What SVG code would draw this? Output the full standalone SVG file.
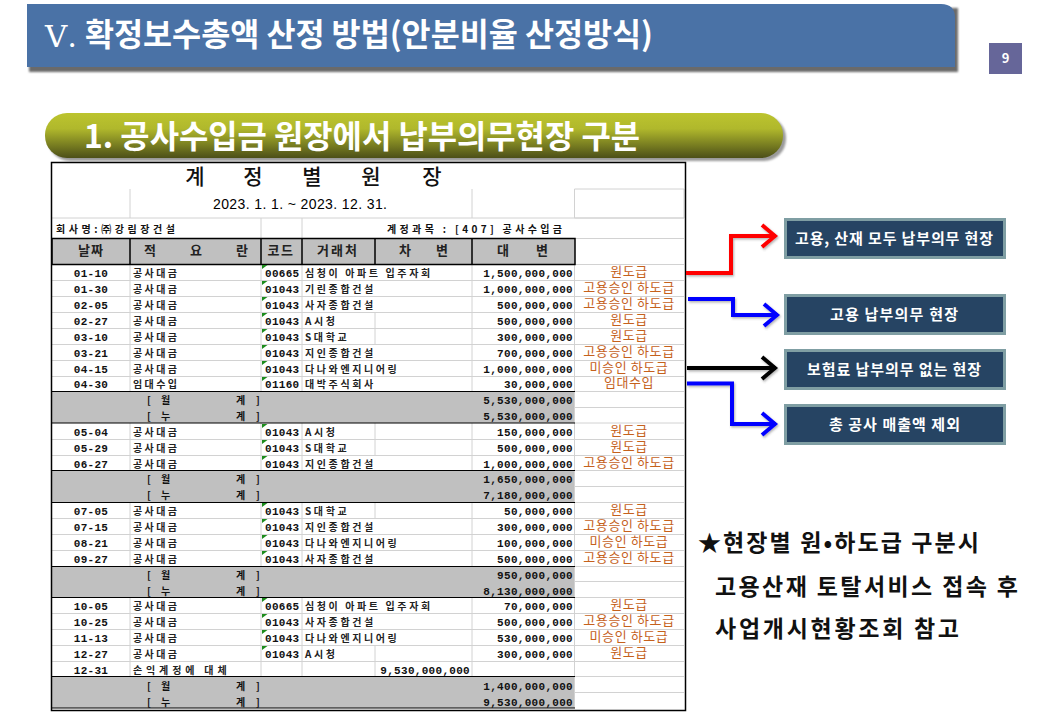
<svg xmlns="http://www.w3.org/2000/svg" width="1040" height="720" viewBox="0 0 1040 720">
<style>
text{font-family:"Noto Sans CJK KR","Noto Sans",sans-serif}
.m,.a{font-family:"Liberation Mono","DejaVu Sans Mono",monospace;font-weight:700;font-size:11px;letter-spacing:.3px;fill:#111}
.a{text-anchor:end}
.d{text-anchor:middle}
.k{font-size:10px;font-weight:700;letter-spacing:2.4px;fill:#222}
.n{font-size:10px;font-weight:700;letter-spacing:2.6px;fill:#222}
.o{font-size:13px;fill:#c5611c;text-anchor:middle;letter-spacing:.6px}
.h{font-size:13px;font-weight:700;fill:#222;text-anchor:middle}
.b{font-size:10px;font-weight:700;fill:#111}
.g{stroke:#d2d2d2;stroke-width:1;fill:none}
.t{stroke:#000;stroke-width:1.5;fill:none}
.bx{fill:#264463;stroke:#7f9ea3;stroke-width:3}
.bt{fill:#fff;font-size:15px;font-weight:700}
.nt{font-size:23px;font-weight:700;fill:#111}
.c{fill:none;stroke-width:4}
</style>
<defs>
<linearGradient id="pill" x1="0" y1="0" x2="0" y2="1"><stop offset="0" stop-color="#bcc42e"/><stop offset=".35" stop-color="#b0b82c"/><stop offset="1" stop-color="#4c4f18"/></linearGradient>
<filter id="sh" x="-5%" y="-20%" width="110%" height="150%"><feGaussianBlur stdDeviation="1.200"/></filter>
<filter id="as" x="-20%" y="-20%" width="140%" height="140%"><feDropShadow dx="1" dy="1.500" stdDeviation="1" flood-color="#555" flood-opacity=".45"/></filter>
<path id="tri" d="M0 0h5.500L0 4z" fill="#1c8c1c"/>
<marker id="ar" markerUnits="userSpaceOnUse" markerWidth="24" markerHeight="28" refX="16" refY="14" orient="auto"><path d="M2 3L15 14L2 25" fill="none" stroke="#f00" stroke-width="4"/></marker>
<marker id="ab" markerUnits="userSpaceOnUse" markerWidth="24" markerHeight="28" refX="16" refY="14" orient="auto"><path d="M2 3L15 14L2 25" fill="none" stroke="#00f" stroke-width="4"/></marker>
<marker id="ak" markerUnits="userSpaceOnUse" markerWidth="24" markerHeight="28" refX="16" refY="14" orient="auto"><path d="M2 3L15 14L2 25" fill="none" stroke="#000" stroke-width="4"/></marker>
</defs>
<rect width="1040" height="720" fill="#fff"/>

<g id="title">
<rect x="29" y="8" width="929" height="64" fill="#6b6b6b" filter="url(#sh)"/>
<path d="M27 67V4H941Q955 4 955 18V67Z" fill="#4a72a6"/>
<text x="45" y="47" font-size="30" fill="#fff" textLength="32" lengthAdjust="spacingAndGlyphs" style="font-family:'DejaVu Serif',serif">Ⅴ.</text>
<text x="85" y="46" font-size="32" font-weight="700" fill="#fff" textLength="568" lengthAdjust="spacingAndGlyphs">확정보수총액 산정 방법(안분비율 산정방식)</text>
</g>
<g id="page"><rect x="989" y="43" width="33" height="31" fill="#666699"/><text x="1005.500" y="63" font-size="13" font-weight="700" fill="#fff" text-anchor="middle">9</text></g>

<g id="section">
<rect x="48" y="116" width="738" height="45" rx="22" fill="#9a9a9a" filter="url(#sh)"/>
<rect x="45" y="113" width="738" height="45" rx="22" fill="url(#pill)"/>
<text x="84" y="148" font-size="32" font-weight="700" fill="#fff" textLength="556" lengthAdjust="spacingAndGlyphs">1. 공사수입금 원장에서 납부의무현장 구분</text>
</g>

<g id="ledger">
<rect x="52" y="163" width="633" height="547" fill="#fff"/>
<rect x="52" y="238.500" width="523" height="26" fill="#c0c0c0"/>
<rect x="52" y="391.500" width="523" height="31.500" fill="#c0c0c0"/>
<rect x="52" y="470.500" width="523" height="32" fill="#c0c0c0"/>
<rect x="52" y="566.500" width="523" height="31" fill="#c0c0c0"/>
<rect x="52" y="676.500" width="523" height="31.500" fill="#c0c0c0"/>
<path class="g" d="M130 189V218H302V238M261 218V238M472 189V218M574.500 189H684V218H574.500ZM52 218H130M302 218H684M575 238.500H684M575 264.500H684"/>
<path class="g" d="M52 280.500H684M52 296.500H684M52 312.500H684M52 328.500H684M52 344.500H684M52 360.500H684M52 376.500H684M575 391.500H684M575 407.500H684M575 423H684M52 439.500H684M52 455.500H684M575 470.500H684M575 486.500H684M575 502.500H684M52 518.500H684M52 534.500H684M52 550.500H684M575 566.500H684M575 581.500H684M575 597.500H684M52 613.500H684M52 629.500H684M52 645.500H684M52 661.500H684M575 676.500H684M575 692.500H684"/>
<path class="g" d="M130 264V391M261 264V391M302 264V391M472 264V391M574.500 264V708M130 423V470M261 423V470M302 423V470M472 423V470M130 502V566M261 502V566M302 502V566M472 502V566M130 597V676M261 597V676M302 597V676M472 597V676M375 312V344M375 423V455M375 502V518M375 645V676"/>
<path class="t" d="M52 238.500H575V264.500H52ZM130 238V265M261 238V265M302 238V265M375 238V265M472 238V265"/>
<path d="M52 391.500H575M52 423H575M52 470.500H575M52 502.500H575M52 566.500H575M52 597.500H575M52 676.500H575" stroke="#000" stroke-width="1.200" fill="none"/>
<path d="M52 708H575" stroke="#000" stroke-width="1"/>
<rect x="51.500" y="162.500" width="634" height="548" fill="none" stroke="#000" stroke-width="1.500"/>
<use href="#tri" x="262" y="265"/><use href="#tri" x="262" y="281"/><use href="#tri" x="262" y="297"/><use href="#tri" x="262" y="313"/><use href="#tri" x="262" y="329"/><use href="#tri" x="262" y="345"/><use href="#tri" x="262" y="361"/><use href="#tri" x="262" y="377"/><use href="#tri" x="262" y="424"/><use href="#tri" x="262" y="440"/><use href="#tri" x="262" y="456"/><use href="#tri" x="262" y="503"/><use href="#tri" x="262" y="519"/><use href="#tri" x="262" y="535"/><use href="#tri" x="262" y="551"/><use href="#tri" x="262" y="598"/><use href="#tri" x="262" y="614"/><use href="#tri" x="262" y="630"/><use href="#tri" x="262" y="646"/>

<text y="184" font-size="21" font-weight="500" fill="#111" text-anchor="middle" x="195 224 253 282 312 341 371 401 432">계 정 별 원 장</text>
<text x="213" y="209" font-size="14" fill="#000" textLength="174" style="font-family:'Liberation Sans',sans-serif">2023. 1. 1. ~  2023. 12. 31.</text>
<text class="b" x="56" y="233" textLength="119">회사명:㈜강림장건설</text>
<text class="b" x="387" y="233" textLength="175">계정과목 : [407] 공사수입금</text>

<text class="h" x="91" y="255" letter-spacing="1">날짜</text>
<text class="h" y="255" x="150 173 196 219 242">적 요 란</text>
<text class="h" x="281" y="255" letter-spacing="1.500">코드</text>
<text class="h" x="338" y="255" letter-spacing="2">거래처</text>
<text class="h" y="255" x="405 423 442">차 변</text>
<text class="h" y="255" x="503 522 542">대 변</text>

<g>
<text class="m d" x="91" y="277">01-10</text><text class="k" x="133" y="277">공사대금</text><text class="m" x="265" y="277">00665</text><text class="n" x="305" y="277">심청이 아파트 입주자회</text><text class="a" x="573" y="277">1,500,000,000</text><text class="o" x="629" y="276">원도급</text>
<text class="m d" x="91" y="293">01-30</text><text class="k" x="133" y="293">공사대금</text><text class="m" x="265" y="293">01043</text><text class="n" x="305" y="293">기린종합건설</text><text class="a" x="573" y="293">1,000,000,000</text><text class="o" x="629" y="292">고용승인 하도급</text>
<text class="m d" x="91" y="309">02-05</text><text class="k" x="133" y="309">공사대금</text><text class="m" x="265" y="309">01043</text><text class="n" x="305" y="309">사자종합건설</text><text class="a" x="573" y="309">500,000,000</text><text class="o" x="629" y="308">고용승인 하도급</text>
<text class="m d" x="91" y="325">02-27</text><text class="k" x="133" y="325">공사대금</text><text class="m" x="265" y="325">01043</text><text class="n" x="305" y="325">A시청</text><text class="a" x="573" y="325">500,000,000</text><text class="o" x="629" y="324">원도급</text>
<text class="m d" x="91" y="341">03-10</text><text class="k" x="133" y="341">공사대금</text><text class="m" x="265" y="341">01043</text><text class="n" x="305" y="341">S대학교</text><text class="a" x="573" y="341">300,000,000</text><text class="o" x="629" y="340">원도급</text>
<text class="m d" x="91" y="357">03-21</text><text class="k" x="133" y="357">공사대금</text><text class="m" x="265" y="357">01043</text><text class="n" x="305" y="357">지인종합건설</text><text class="a" x="573" y="357">700,000,000</text><text class="o" x="629" y="356">고용승인 하도급</text>
<text class="m d" x="91" y="373">04-15</text><text class="k" x="133" y="373">공사대금</text><text class="m" x="265" y="373">01043</text><text class="n" x="305" y="373">다나와엔지니어링</text><text class="a" x="573" y="373">1,000,000,000</text><text class="o" x="629" y="372">미승인 하도급</text>
<text class="m d" x="91" y="388">04-30</text><text class="k" x="133" y="388">임대수입</text><text class="m" x="265" y="388">01160</text><text class="n" x="305" y="388">대박주식회사</text><text class="a" x="573" y="388">30,000,000</text><text class="o" x="629" y="387">임대수입</text>
<text class="b" y="404" x="147 154 161 198 236 247 256">[ 월 계 ]</text><text class="a" x="573" y="404">5,530,000,000</text>
<text class="b" y="420" x="147 154 161 198 236 247 256">[ 누 계 ]</text><text class="a" x="573" y="420">5,530,000,000</text>
<text class="m d" x="91" y="436">05-04</text><text class="k" x="133" y="436">공사대금</text><text class="m" x="265" y="436">01043</text><text class="n" x="305" y="436">A시청</text><text class="a" x="573" y="436">150,000,000</text><text class="o" x="629" y="435">원도급</text>
<text class="m d" x="91" y="452">05-29</text><text class="k" x="133" y="452">공사대금</text><text class="m" x="265" y="452">01043</text><text class="n" x="305" y="452">S대학교</text><text class="a" x="573" y="452">500,000,000</text><text class="o" x="629" y="451">원도급</text>
<text class="m d" x="91" y="468">06-27</text><text class="k" x="133" y="468">공사대금</text><text class="m" x="265" y="468">01043</text><text class="n" x="305" y="468">지인종합건설</text><text class="a" x="573" y="468">1,000,000,000</text><text class="o" x="629" y="467">고용승인 하도급</text>
<text class="b" y="483" x="147 154 161 198 236 247 256">[ 월 계 ]</text><text class="a" x="573" y="483">1,650,000,000</text>
<text class="b" y="499" x="147 154 161 198 236 247 256">[ 누 계 ]</text><text class="a" x="573" y="499">7,180,000,000</text>
<text class="m d" x="91" y="515">07-05</text><text class="k" x="133" y="515">공사대금</text><text class="m" x="265" y="515">01043</text><text class="n" x="305" y="515">S대학교</text><text class="a" x="573" y="515">50,000,000</text><text class="o" x="629" y="514">원도급</text>
<text class="m d" x="91" y="531">07-15</text><text class="k" x="133" y="531">공사대금</text><text class="m" x="265" y="531">01043</text><text class="n" x="305" y="531">지인종합건설</text><text class="a" x="573" y="531">300,000,000</text><text class="o" x="629" y="530">고용승인 하도급</text>
<text class="m d" x="91" y="547">08-21</text><text class="k" x="133" y="547">공사대금</text><text class="m" x="265" y="547">01043</text><text class="n" x="305" y="547">다나와엔지니어링</text><text class="a" x="573" y="547">100,000,000</text><text class="o" x="629" y="546">미승인 하도급</text>
<text class="m d" x="91" y="563">09-27</text><text class="k" x="133" y="563">공사대금</text><text class="m" x="265" y="563">01043</text><text class="n" x="305" y="563">사자종합건설</text><text class="a" x="573" y="563">500,000,000</text><text class="o" x="629" y="562">고용승인 하도급</text>
<text class="b" y="579" x="147 154 161 198 236 247 256">[ 월 계 ]</text><text class="a" x="573" y="579">950,000,000</text>
<text class="b" y="595" x="147 154 161 198 236 247 256">[ 누 계 ]</text><text class="a" x="573" y="595">8,130,000,000</text>
<text class="m d" x="91" y="610">10-05</text><text class="k" x="133" y="610">공사대금</text><text class="m" x="265" y="610">00665</text><text class="n" x="305" y="610">심청이 아파트 입주자회</text><text class="a" x="573" y="610">70,000,000</text><text class="o" x="629" y="609">원도급</text>
<text class="m d" x="91" y="626">10-25</text><text class="k" x="133" y="626">공사대금</text><text class="m" x="265" y="626">01043</text><text class="n" x="305" y="626">사자종합건설</text><text class="a" x="573" y="626">500,000,000</text><text class="o" x="629" y="625">고용승인 하도급</text>
<text class="m d" x="91" y="642">11-13</text><text class="k" x="133" y="642">공사대금</text><text class="m" x="265" y="642">01043</text><text class="n" x="305" y="642">다나와엔지니어링</text><text class="a" x="573" y="642">530,000,000</text><text class="o" x="629" y="641">미승인 하도급</text>
<text class="m d" x="91" y="658">12-27</text><text class="k" x="133" y="658">공사대금</text><text class="m" x="265" y="658">01043</text><text class="n" x="305" y="658">A시청</text><text class="a" x="573" y="658">300,000,000</text><text class="o" x="629" y="657">원도급</text>
<text class="m d" x="91" y="674">12-31</text><text class="k" x="133" y="674" textLength="96">손익계정에 대체</text><text class="a" x="470" y="674">9,530,000,000</text>
<text class="b" y="690" x="147 154 161 198 236 247 256">[ 월 계 ]</text><text class="a" x="573" y="690">1,400,000,000</text>
<text class="b" y="706" x="147 154 161 198 236 247 256">[ 누 계 ]</text><text class="a" x="573" y="706">9,530,000,000</text>
</g>
</g>

<g id="connectors" filter="url(#as)">
<path class="c" stroke="#f00" marker-end="url(#ar)" d="M686 273H731V236H776"/>
<path class="c" stroke="#00f" marker-end="url(#ab)" d="M688 299H733V315H778"/>
<path class="c" stroke="#000" marker-end="url(#ak)" d="M687 368H776"/>
<path class="c" stroke="#00f" marker-end="url(#ab)" d="M687 383.500H732V424H776"/>
</g>

<g id="box1"><rect class="bx" x="785.500" y="219.500" width="219" height="38"/><text class="bt" x="795" y="244" textLength="198">고용, 산재 모두 납부의무 현장</text></g>
<g id="box2"><rect class="bx" x="785.500" y="295.500" width="219" height="38"/><text class="bt" x="830" y="320" textLength="128">고용 납부의무 현장</text></g>
<g id="box3"><rect class="bx" x="785.500" y="350.500" width="219" height="38"/><text class="bt" x="807" y="375" textLength="174">보험료 납부의무 없는 현장</text></g>
<g id="box4"><rect class="bx" x="785.500" y="405.500" width="219" height="38"/><text class="bt" x="829" y="430" textLength="131">총 공사 매출액 제외</text></g>

<g id="note">
<text class="nt" x="698" y="551" textLength="281">★현장별 원•하도급 구분시</text>
<text class="nt" x="715" y="595" textLength="303">고용산재 토탈서비스 접속 후</text>
<text class="nt" x="715" y="637" textLength="244">사업개시현황조회 참고</text>
</g>
</svg>
